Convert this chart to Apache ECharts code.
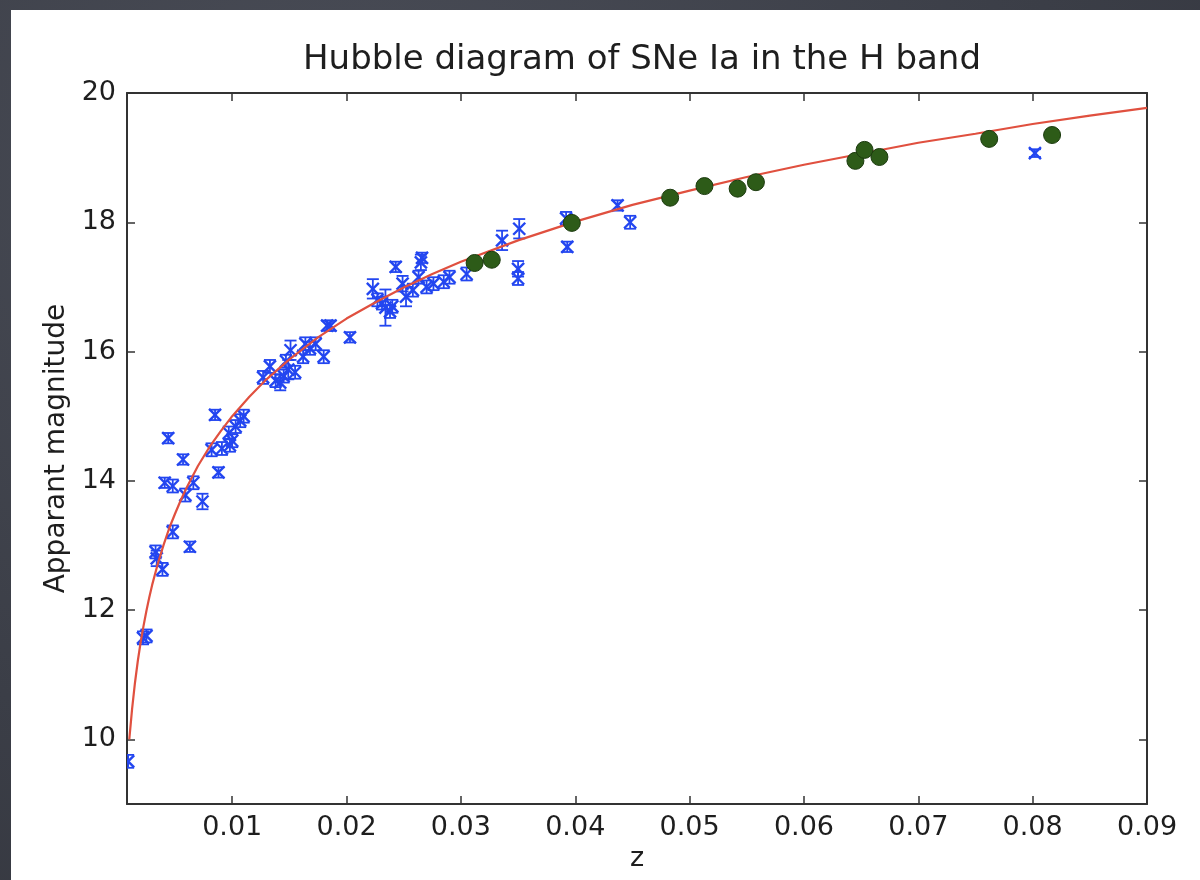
<!DOCTYPE html>
<html>
<head>
<meta charset="utf-8">
<title>Hubble diagram of SNe Ia in the H band</title>
<script src="https://cdn.jsdelivr.net/npm/echarts@6/dist/echarts.min.js"></script>
<style>
  html, body { margin: 0; padding: 0; }
  body {
    width: 1200px; height: 880px; overflow: hidden; position: relative;
    background: radial-gradient(ellipse at 30% 20%, #4a4d57 0%, #3b3e47 60%, #33353d 100%);
  }
  #panel { position: absolute; left: 11px; top: 10px; width: 1189px; height: 870px; background: #ffffff; }
  #chart { position: absolute; left: 0; top: 0; width: 1200px; height: 880px; }
</style>
</head>
<body>
<div id="panel"></div>
<div id="chart"></div>
<script>
// Axis ranges and tick positions
const xMin = 0.0008, xMax = 0.09;
const yMin = 9, yMax = 20;
const xTicks = [0.01, 0.02, 0.03, 0.04, 0.05, 0.06, 0.07, 0.08, 0.09];
const yTicks = [10, 12, 14, 16, 18, 20];

// Nearby supernovae: redshift, apparent H magnitude, magnitude error
const nearZ = [
  0.0009, 0.0022, 0.0025, 0.0033, 0.0034, 0.0039, 0.0048, 0.0063,
  0.0041, 0.0048, 0.0059, 0.0066, 0.0074, 0.0044, 0.0057, 0.0085,
  0.0088, 0.0082, 0.0091, 0.0097, 0.0098, 0.0103, 0.0107, 0.0110, 0.0100,
  0.0127, 0.0133, 0.0138, 0.0142, 0.0145, 0.0149, 0.0151, 0.0147, 0.0155,
  0.0162, 0.0164, 0.0168, 0.0173, 0.0180, 0.0183, 0.0186, 0.0203,
  0.0223, 0.0227, 0.0231, 0.0234, 0.0238, 0.0240, 0.0243, 0.0249, 0.0252,
  0.0258, 0.0263, 0.0265, 0.0266, 0.0270, 0.0276, 0.0285, 0.0290, 0.0305,
  0.0336, 0.0351, 0.0350, 0.0350, 0.0392, 0.0393, 0.0437, 0.0448, 0.0802
];
const nearMag = [
  9.66, 11.57, 11.60, 12.90, 12.80, 12.63, 13.21, 12.98,
  13.97, 13.92, 13.78, 13.97, 13.68, 14.66, 14.33, 15.02,
  14.13, 14.48, 14.50, 14.74, 14.55, 14.84, 14.93, 15.00, 14.62,
  15.60, 15.77, 15.55, 15.52, 15.62, 15.72, 16.02, 15.85, 15.68,
  15.92, 16.12, 16.05, 16.12, 15.92, 16.40, 16.40, 16.22,
  16.97, 16.80, 16.75, 16.68, 16.62, 16.70, 17.31, 17.05, 16.85,
  16.95, 17.15, 17.38, 17.45, 17.00, 17.05, 17.08, 17.15, 17.20,
  17.72, 17.90, 17.28, 17.13, 18.06, 17.62, 18.26, 18.00, 19.07
];
const nearErr = [
  0.10, 0.10, 0.10, 0.10, 0.12, 0.10, 0.10, 0.08,
  0.08, 0.10, 0.10, 0.10, 0.12, 0.08, 0.08, 0.08,
  0.08, 0.10, 0.10, 0.10, 0.10, 0.10, 0.10, 0.10, 0.10,
  0.10, 0.10, 0.10, 0.12, 0.10, 0.15, 0.15, 0.10, 0.10,
  0.10, 0.10, 0.10, 0.10, 0.10, 0.08, 0.08, 0.08,
  0.15, 0.10, 0.10, 0.28, 0.10, 0.10, 0.08, 0.12, 0.15,
  0.10, 0.10, 0.12, 0.08, 0.10, 0.10, 0.10, 0.10, 0.10,
  0.15, 0.15, 0.12, 0.10, 0.10, 0.08, 0.08, 0.10, 0.06
];

// Second sample: redshift and apparent H magnitude
const farZ = [0.0312, 0.0327, 0.0397, 0.0483, 0.0513, 0.0542, 0.0558, 0.0645, 0.0653, 0.0666, 0.0762, 0.0817];
const farMag = [17.37, 17.42, 17.99, 18.38, 18.56, 18.52, 18.62, 18.95, 19.12, 19.01, 19.29, 19.35];

// Hubble-law curve, read along its length
const curveZ = [
  0.001, 0.00125, 0.0015, 0.00175, 0.002, 0.00225, 0.0025, 0.00275, 0.003, 0.0035,
  0.004, 0.0045, 0.005, 0.0055, 0.006, 0.007, 0.008, 0.009, 0.01, 0.0115,
  0.013, 0.015, 0.0175, 0.02, 0.0225, 0.025, 0.0275, 0.03, 0.035, 0.04,
  0.045, 0.05, 0.055, 0.06, 0.065, 0.07, 0.075, 0.08, 0.085, 0.09
];
const curveMag = [
  10.00, 10.48, 10.88, 11.22, 11.51, 11.76, 11.99, 12.20, 12.39, 12.72,
  13.01, 13.27, 13.49, 13.70, 13.89, 14.23, 14.52, 14.77, 15.00, 15.30,
  15.57, 15.88, 16.22, 16.51, 16.76, 16.99, 17.20, 17.39, 17.72, 18.01,
  18.27, 18.49, 18.70, 18.89, 19.06, 19.23, 19.37, 19.52, 19.65, 19.77
];

const FONT = '"DejaVu Sans", "Liberation Sans", sans-serif';
const TEXT = '#1e1e1e';
const SPINE = '#333333';
const BLUE = '#2346f0';

const nearData = nearZ.map((z, i) => [z, nearMag[i], nearErr[i]]);
const farData = farZ.map((z, i) => [z, farMag[i]]);
const curveData = curveZ.map((z, i) => [z, curveMag[i]]);

// Blue 'x' marker with a capped vertical error bar
function errorCross(params, api) {
  const z = api.value(0), m = api.value(1), e = api.value(2);
  const c = api.coord([z, m]);
  const hi = api.coord([z, m + e]);
  const lo = api.coord([z, m - e]);
  const s = 6, cap = 6;
  const st = { stroke: BLUE, lineWidth: 1.8 };
  const xs = { stroke: BLUE, lineWidth: 2.4 };
  return {
    type: 'group',
    children: [
      { type: 'line', shape: { x1: c[0], y1: hi[1], x2: c[0], y2: lo[1] }, style: st },
      { type: 'line', shape: { x1: c[0] - cap, y1: hi[1], x2: c[0] + cap, y2: hi[1] }, style: st },
      { type: 'line', shape: { x1: c[0] - cap, y1: lo[1], x2: c[0] + cap, y2: lo[1] }, style: st },
      { type: 'line', shape: { x1: c[0] - s, y1: c[1] - s, x2: c[0] + s, y2: c[1] + s }, style: xs },
      { type: 'line', shape: { x1: c[0] - s, y1: c[1] + s, x2: c[0] + s, y2: c[1] - s }, style: xs }
    ]
  };
}

const tickStyle = { show: true, inside: true, length: 8, lineStyle: { color: SPINE, width: 1.5 } };
const lineStyle = { show: true, onZero: false, lineStyle: { color: SPINE, width: 2 } };

const chart = echarts.init(document.getElementById('chart'), null, { renderer: 'canvas' });
chart.setOption({
  backgroundColor: 'transparent',
  animation: false,
  title: {
    text: 'Hubble diagram of SNe Ia in the H band',
    left: 637, top: 38, textAlign: 'center',
    textStyle: { fontFamily: FONT, fontSize: 34, fontWeight: 'normal', color: TEXT }
  },
  grid: { left: 127, right: 53, top: 93, bottom: 76, containLabel: false },
  xAxis: [
    {
      type: 'value', position: 'bottom', min: xMin, max: xMax,
      name: 'z', nameLocation: 'middle', nameGap: 36,
      nameTextStyle: { fontFamily: FONT, fontSize: 27, color: TEXT },
      axisLine: lineStyle,
      axisTick: Object.assign({ customValues: xTicks }, tickStyle),
      axisLabel: {
        customValues: xTicks, margin: 10,
        formatter: v => v.toFixed(2),
        fontFamily: FONT, fontSize: 27, color: TEXT
      },
      splitLine: { show: false }
    },
    {
      type: 'value', position: 'top', min: xMin, max: xMax,
      axisLine: lineStyle,
      axisTick: Object.assign({ customValues: xTicks }, tickStyle),
      axisLabel: { show: false },
      splitLine: { show: false }
    }
  ],
  yAxis: [
    {
      type: 'value', position: 'left', min: yMin, max: yMax,
      name: 'Apparant magnitude', nameLocation: 'middle', nameGap: 56, nameRotate: 90,
      nameTextStyle: { fontFamily: FONT, fontSize: 28, color: TEXT },
      axisLine: lineStyle,
      axisTick: Object.assign({ customValues: yTicks }, tickStyle),
      axisLabel: {
        customValues: yTicks, margin: 11,
        fontFamily: FONT, fontSize: 27, color: TEXT
      },
      splitLine: { show: false }
    },
    {
      type: 'value', position: 'right', min: yMin, max: yMax,
      axisLine: lineStyle,
      axisTick: Object.assign({ customValues: yTicks }, tickStyle),
      axisLabel: { show: false },
      splitLine: { show: false }
    }
  ],
  series: [
    {
      name: 'nearby', type: 'custom', xAxisIndex: 0, yAxisIndex: 0,
      renderItem: errorCross, data: nearData, z: 2, clip: true,
      encode: { x: 0, y: 1 }
    },
    {
      name: 'Hubble law', type: 'line', xAxisIndex: 0, yAxisIndex: 0,
      data: curveData, smooth: false, showSymbol: false,
      lineStyle: { color: '#e0503f', width: 2.2 }, z: 3
    },
    {
      name: 'distant', type: 'scatter', xAxisIndex: 0, yAxisIndex: 0,
      data: farData, symbol: 'circle', symbolSize: 17,
      itemStyle: { color: '#2d5b18', borderColor: '#1b3a0e', borderWidth: 1, opacity: 1 },
      z: 4
    }
  ]
});
</script>
</body>
</html>
